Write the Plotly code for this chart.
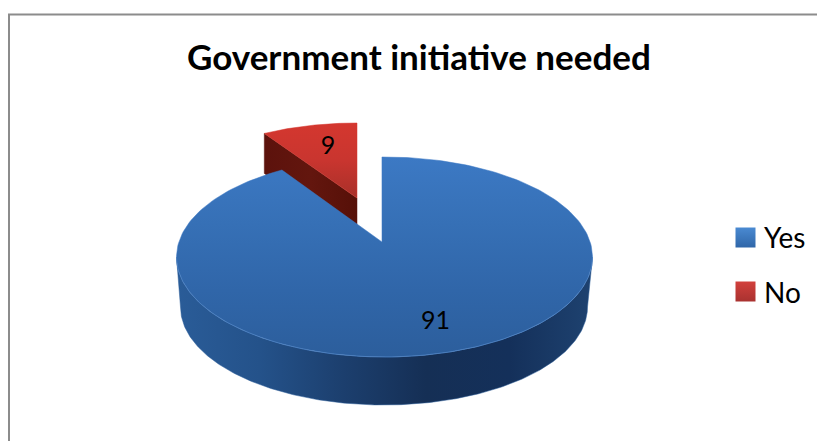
import numpy as np
import plotly.graph_objects as go

# Survey result
categories = ["Yes", "No"]
values = [91, 9]
chart_title = "Government initiative needed"

WIDTH, HEIGHT = 817, 441
TOP = dict(cx=384.5, cy=257.0, rx=208.0, ry=100.0)
BASE = dict(cx=384.0, cy=307.0, rx=203.5, ry=98.0)
EXPLODED = dict(cx=357.0, cy=203.0, rx=188.0, ry=80.0)
HUB = (382.0, 242.0)
EXPLODED_HUB = (357.0, 198.0)
EXPLODED_DEPTH = 40.0
PERSPECTIVE = 0.885
ROTATION = -0.7


def rim_angle(theta):
    """Pie angle (deg, clockwise from 12 o'clock) to ellipse parameter under perspective."""
    half = np.radians(theta) / 2
    return np.degrees(2 * np.arctan2(PERSPECTIVE * np.sin(half), np.cos(half))) + ROTATION


def arc(e, t_start, t_end, n=240):
    t = np.radians(np.linspace(t_start, t_end, n))
    return e["cx"] + e["rx"] * np.sin(t), e["cy"] - e["ry"] * np.cos(t)


def polygon(x, y, name, colors, kind="vertical", line=None):
    # The y axis runs downward, so vertical ramps are listed top-first and flipped here
    ramp = colors[::-1] if kind == "vertical" else colors
    stops = [[i / (len(ramp) - 1), c] for i, c in enumerate(ramp)]
    return go.Scatter(
        x=np.append(x, x[0]), y=np.append(y, y[0]), mode="lines", fill="toself", name=name,
        fillgradient=dict(type=kind, colorscale=stops),
        line=dict(width=0.5, color=line or colors[0]), hoverinfo="name", showlegend=False,
    )


total = sum(values)
sweep_yes = 360 * values[0] / total
t_yes = rim_angle(sweep_yes)

fig = go.Figure()

# Exploded "No" slice: inner cut face, then its top
nx, ny = arc(EXPLODED, t_yes - 360, 0, 60)
fig.add_trace(polygon(
    np.array([nx[0], nx[0], EXPLODED_HUB[0], EXPLODED_HUB[0]]),
    np.array([ny[0], ny[0] + EXPLODED_DEPTH, EXPLODED_HUB[1] + EXPLODED_DEPTH, EXPLODED_HUB[1]]),
    categories[1], ["#5c120c", "#63160e", "#561008"], "horizontal",
))
fig.add_trace(polygon(
    np.append(nx, EXPLODED_HUB[0]), np.append(ny, EXPLODED_HUB[1]),
    categories[1], ["#d4372f", "#c9352f", "#a83029"],
))

# "Yes" slice: outer wall, then its top
wx, wy = arc(TOP, 90, 270)
bx, by = arc(BASE, 270, 90)
fig.add_trace(polygon(
    np.concatenate([wx, bx]), np.concatenate([wy, by]), categories[0],
    ["#2a5c98", "#24528a", "#1c3f6e", "#152f55", "#14305a", "#1e4270"], "horizontal",
))
yx, yy = arc(TOP, ROTATION, t_yes)
fig.add_trace(polygon(
    np.append(yx, HUB[0]), np.append(yy, HUB[1]), categories[0],
    ["#3c79c4", "#3670b6", "#3066a9", "#2c5e9c"],
))
# Soft highlight along the front of the rim
fig.add_trace(go.Scatter(
    x=wx, y=wy, mode="lines", line=dict(color="rgba(90,140,200,0.45)", width=1),
    hoverinfo="skip", showlegend=False,
))

# Slice value labels
fig.add_trace(go.Scatter(
    x=[435.5, 328], y=[323, 147.5], mode="text", text=[str(v) for v in values],
    textfont=dict(family="Lato", size=25, color="#000000"),
    hoverinfo="skip", showlegend=False,
))

# Legend entries
swatch_colors = ["#4a8ad2", "#d2403c"]
swatch_ends = ["#2f66a8", "#a93230"]
legend_y = [237.5, 291.5]
fig.add_trace(go.Scatter(
    x=[745.5, 745.5], y=legend_y, mode="markers",
    marker=dict(symbol="square", size=20, color=swatch_colors,
                gradient=dict(type="vertical", color=swatch_ends), line=dict(width=0)),
    hoverinfo="skip", showlegend=False,
))
fig.add_trace(go.Scatter(
    x=[764, 764], y=[241, 295.5], mode="text", text=categories, textposition="middle right",
    textfont=dict(family="Lato", size=28, color="#000000"),
    hoverinfo="skip", showlegend=False,
))

fig.update_layout(
    width=WIDTH, height=HEIGHT, margin=dict(l=0, r=0, t=0, b=0),
    paper_bgcolor="white", plot_bgcolor="white", showlegend=False,
    xaxis=dict(range=[0, WIDTH], visible=False, fixedrange=True),
    yaxis=dict(range=[HEIGHT, 0], visible=False, fixedrange=True),
    annotations=[dict(
        x=419, y=55.5, xref="x", yref="y", text=f"<b>{chart_title}</b>", showarrow=False,
        font=dict(family="Lato", size=35, color="#000000"),
    )],
    shapes=[dict(
        type="path", path=f"M 9 {HEIGHT} L 9 14.5 L {WIDTH} 14.5", xref="x", yref="y",
        line=dict(color="#8c8c8c", width=2),
    )],
)

fig.write_html("out.html", config=dict(displayModeBar=False))
